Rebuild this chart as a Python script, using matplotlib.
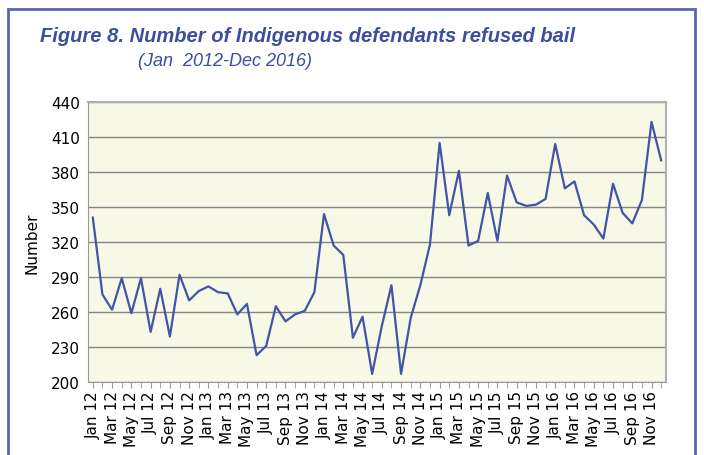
import matplotlib.pyplot as plt
from matplotlib.patches import Rectangle

months = ["Jan", "Feb", "Mar", "Apr", "May", "Jun",
          "Jul", "Aug", "Sep", "Oct", "Nov", "Dec"]
years = ["12", "13", "14", "15", "16"]
labels = [m + " " + y for y in years for m in months]

refused_2012 = [341, 275, 262, 289, 259, 289, 243, 280, 239, 292, 270, 278]
refused_2013 = [282, 277, 276, 258, 267, 223, 231, 265, 252, 258, 261, 277]
refused_2014 = [344, 317, 309, 238, 256, 207, 248, 283, 207, 255, 283, 318]
refused_2015 = [405, 343, 381, 317, 321, 362, 321, 377, 354, 351, 352, 357]
refused_2016 = [404, 366, 372, 343, 335, 323, 370, 345, 336, 356, 423, 390]
refused = refused_2012 + refused_2013 + refused_2014 + refused_2015 + refused_2016

fig = plt.figure(figsize=(7.04, 4.56), dpi=100)
ax = fig.add_axes([0.125, 0.160, 0.821, 0.614])

# outer frame of the figure box
fig.patches.append(Rectangle((8 / 704, -0.05), 687 / 704, 1.05 - 10 / 456,
                             transform=fig.transFigure, fill=False,
                             edgecolor="#5a64b4", linewidth=2))

ax.set_facecolor("#f7f8e6")
ax.plot(range(len(refused)), refused, color="#4254a8", linewidth=1.6)

ax.set_ylim(200, 440)
ax.set_yticks(range(200, 441, 30))
ax.yaxis.grid(True, color="#858585", linewidth=1)
ax.set_axisbelow(True)
ax.set_xlim(-0.5, len(refused) - 0.5)
ax.set_xticks(range(0, len(refused), 2))
ax.set_xticklabels(labels[::2], rotation=90, fontsize=11)
ax.set_xticks(range(len(refused)), minor=True)
ax.tick_params(axis="y", labelsize=11, length=0, pad=6)
ax.tick_params(axis="x", which="both", length=4, color="#999999", pad=2)
ax.set_ylabel("Number", fontsize=11, labelpad=8)

for s in ["top", "right"]:
    ax.spines[s].set_color("#b0b0b0")
    ax.spines[s].set_linewidth(1.5)
for s in ["left", "bottom"]:
    ax.spines[s].set_color("#999999")

fig.text(40 / 704, 1 - 36 / 456, "Figure 8. Number of Indigenous defendants refused bail",
         fontsize=14.5, fontweight="bold", fontstyle="italic", color="#3a4fa0",
         family="Liberation Sans", va="center")
fig.text(138 / 704, 1 - 62 / 456, "(Jan  2012-Dec 2016)",
         fontsize=13, fontstyle="italic", color="#3a4fa0",
         family="Liberation Sans", va="center")

fig.savefig("out.png", dpi=100)
